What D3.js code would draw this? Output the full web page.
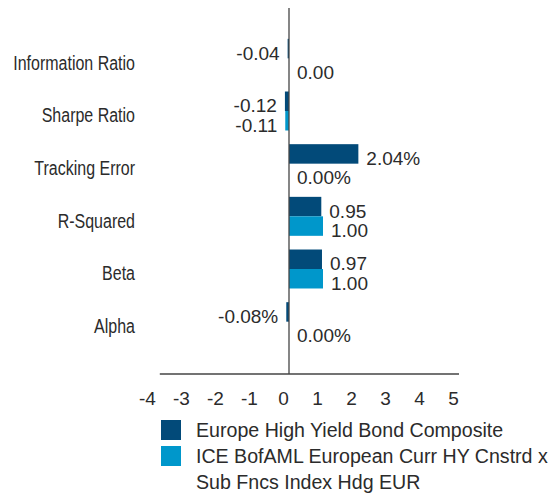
<!DOCTYPE html>
<html>
<head>
<meta charset="utf-8">
<script src="https://cdn.jsdelivr.net/npm/d3@7"></script>
<style>
  body { margin: 0; background: #fff; }
  text { font-family: "Liberation Sans", Arial, sans-serif; fill: #2b2b2b; }
</style>
</head>
<body>
<svg id="chart" width="554" height="497"></svg>
<script>
// values
const categories = ["Information Ratio", "Sharpe Ratio", "Tracking Error", "R-Squared", "Beta", "Alpha"];
const composite = [-0.04, -0.12, 2.04, 0.95, 0.97, -0.08];
const benchmark = [0.00, -0.11, 0.00, 1.00, 1.00, 0.00];
const suffixes = ["", "", "%", "", "", "%"];
const seriesNames = ["Europe High Yield Bond Composite", "ICE BofAML European Curr HY Cnstrd x Sub Fncs Index Hdg EUR"];
const seriesColors = ["#024a79", "#0097cb"];
const xTicks = [-4, -3, -2, -1, 0, 1, 2, 3, 4, 5];

const svg = d3.select("#chart");

const x = d3.scaleLinear().domain([-4, 5]).range([153, 459]);
const y = d3.scaleBand().domain(categories).range([32, 348]).paddingInner(0.26).paddingOuter(0.13);
const ySub = d3.scaleBand().domain([0, 1]).range([0, y.bandwidth()]);

const rows = categories.map((c, i) => ({
  cat: c,
  vals: [composite[i], benchmark[i]],
  suffix: suffixes[i]
}));

// bars
const grp = svg.selectAll(".grp")
  .data(rows)
  .enter().append("g")
  .attr("class", "grp")
  .attr("transform", d => `translate(0,${y(d.cat)})`);

const cells = grp.selectAll(".cell")
  .data(d => d.vals.map((v, k) => ({v: v, k: k, suffix: d.suffix})))
  .enter().append("g")
  .attr("class", "cell");

cells.append("rect")
  .attr("x", d => x(Math.min(0, d.v)))
  .attr("y", d => ySub(d.k))
  .attr("width", d => Math.abs(x(d.v) - x(0)))
  .attr("height", ySub.bandwidth())
  .attr("fill", d => seriesColors[d.k]);

cells.append("text")
  .attr("x", d => d.v < 0 ? x(d.v) - 8 : x(d.v) + 8)
  .attr("y", d => ySub(d.k) + ySub.bandwidth() / 2)
  .attr("dy", "0.58em")
  .attr("text-anchor", d => d.v < 0 ? "end" : "start")
  .style("font-size", "19px")
  .text(d => d.v.toFixed(2) + d.suffix);

// category labels (condensed look: squeeze horizontally)
svg.selectAll(".cat")
  .data(categories)
  .enter().append("text")
  .attr("class", "cat")
  .attr("transform", d => `translate(135,${y(d) + y.bandwidth() / 2}) scale(0.82,1)`)
  .attr("dy", "0.58em")
  .attr("text-anchor", "end")
  .style("font-size", "19.5px")
  .text(d => d);

// x axis
const xAxis = d3.axisBottom(x).tickValues(xTicks).tickSize(0).tickPadding(0).tickFormat(d => String(d));
const gx = svg.append("g")
  .attr("transform", "translate(0,374)")
  .call(xAxis);
gx.select(".domain").attr("stroke", "#444").attr("stroke-width", 1.3)
  .attr("d", `M${x(-3.8)},0H${x(5)}`);
gx.selectAll(".tick text")
  .attr("x", -6)
  .attr("y", 31)
  .attr("dy", 0)
  .style("font-size", "19px")
  .style("font-family", "'Liberation Sans', Arial, sans-serif")
  .attr("fill", "#2b2b2b");

// zero line
svg.append("line")
  .attr("x1", x(0)).attr("x2", x(0))
  .attr("y1", 8).attr("y2", 374)
  .attr("stroke", "#444")
  .attr("stroke-width", 1.3);

// legend
const legendLines = [[seriesNames[0]], ["ICE BofAML European Curr HY Cnstrd x", "Sub Fncs Index Hdg EUR"]];
const legend = svg.append("g").attr("transform", "translate(161,420)");
const li = legend.selectAll(".li")
  .data(seriesNames)
  .enter().append("g")
  .attr("class", "li")
  .attr("transform", (d, i) => `translate(0,${i * 26})`);
li.append("rect")
  .attr("width", 20).attr("height", 20)
  .attr("fill", (d, i) => seriesColors[i]);
li.append("text")
  .attr("x", 35)
  .attr("y", 17)
  .style("font-size", "19.6px")
  .selectAll("tspan")
  .data((d, i) => legendLines[i])
  .enter().append("tspan")
  .attr("x", 35)
  .attr("dy", (d, j) => j === 0 ? 0 : 26)
  .text(d => d);
</script>
</body>
</html>
